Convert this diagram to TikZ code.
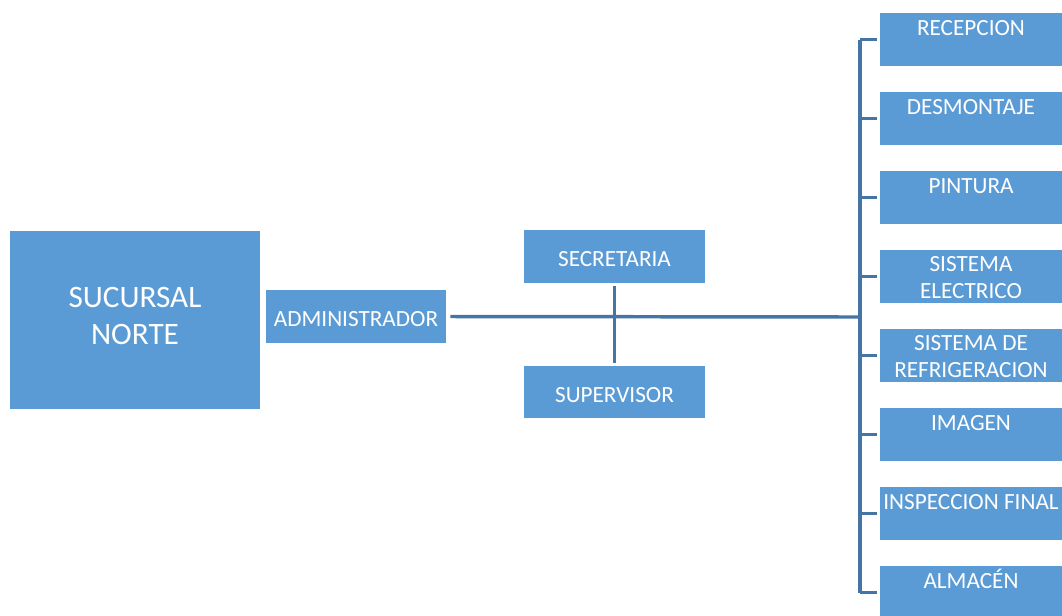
\documentclass[tikz,border=0pt]{standalone}
\usepackage{fontspec}
\setmainfont{Carlito}
\definecolor{boxblue}{RGB}{91,155,213}
\definecolor{lineblue}{RGB}{69,117,165}
\newcommand{\fs}{\fontsize{17.4pt}{20.25pt}\selectfont}
\newcommand{\fb}{\fontsize{23.4pt}{27.75pt}\selectfont}
\tikzset{
  box/.style={fill=boxblue, draw=none, inner sep=0pt, text=white, font=\fs},
  cbox/.style={box, text height=15.2pt, text depth=0pt},
  rbox/.style={box, minimum width=136.5pt, minimum height=39.75pt},
  labone/.style={anchor=base, yshift=-17.25pt, text=white, font=\fs, inner sep=0pt},
  labtwo/.style={anchor=north, yshift=-5pt, align=center, text=white, font=\fs, inner sep=0pt},
  labbig/.style={anchor=center, yshift=3pt, align=center, text=white, font=\fb, inner sep=0pt},
  link/.style={draw=lineblue, line width=2.6pt},
}
\begin{document}
\begin{tikzpicture}[x=0.75pt, y=-0.75pt]
\useasboundingbox (0,0) rectangle (1062,615);
% main boxes
\node[box, minimum width=187.5pt, minimum height=133.5pt, label={[labbig]center:SUCURSAL\\NORTE}] (suc) at (135,320) {};
\node[cbox, minimum width=135pt, minimum height=39.75pt] (adm) at (356,316.5) {ADMINISTRADOR};
\node[cbox, minimum width=135.75pt, minimum height=39.75pt] (sec) at (614.5,256.5) {SECRETARIA};
\node[cbox, minimum width=135.75pt, minimum height=39pt] (sup) at (614.5,392) {SUPERVISOR};
% right column
\node[rbox, label={[labone]north:RECEPCION}] (r1) at (971,39.5) {};
\node[rbox, label={[labone]north:DESMONTAJE}] (r2) at (971,118.5) {};
\node[rbox, label={[labone]north:PINTURA}] (r3) at (971,197.5) {};
\node[rbox, label={[labtwo]north:SISTEMA\\ELECTRICO}] (r4) at (971,276.5) {};
\node[rbox, label={[labtwo]north:SISTEMA DE\\REFRIGERACION}] (r5) at (971,355.5) {};
\node[rbox, label={[labone]north:IMAGEN}] (r6) at (971,434.5) {};
\node[rbox, label={[labone]north:INSPECCION FINAL}] (r7) at (971,513.5) {};
\node[rbox, label={[labone]north:ALMACÉN}] (r8) at (971,592.5) {};
% connectors
\coordinate (tj) at (860,317);
\draw[link] ([xshift=3pt]adm.east) -- (tj);
\draw[link] ([yshift=-2.25pt]sec.south) -- ([yshift=2.25pt]sup.north);
\draw[link] (r1.west -| tj) -- (r8.west -| tj);
\foreach \r in {r1,r2,r3,r4,r5,r6,r7,r8}{
  \draw[link] ([xshift=-2.25pt]\r.west) -- (\r.west -| tj);
}
\end{tikzpicture}
\end{document}
